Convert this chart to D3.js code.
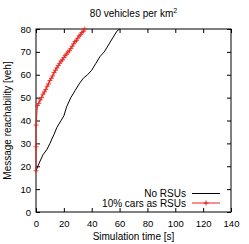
<!DOCTYPE html>
<html>
<head>
<meta charset="utf-8">
<script src="https://cdn.jsdelivr.net/npm/d3@7"></script>
<style>
  body { margin: 0; background: #fff; }
  text { font-family: "Liberation Sans", Arial, sans-serif; fill: #000; }
</style>
</head>
<body>
<script>
// chart data
var xTicks = [0, 20, 40, 60, 80, 100, 120, 140];
var yTicks = [0, 10, 20, 30, 40, 50, 60, 70, 80];

var noRsuTime = [0, 2, 5, 8, 10, 13, 15, 18, 20, 22, 25, 28, 31, 34, 37, 40, 43, 46, 49, 52, 55, 58, 60];
var noRsuReach = [18, 21, 25, 27.5, 30, 34, 37, 40, 42, 46, 50, 53, 56, 58.5, 60, 62, 65, 68, 70, 73, 76, 79, 80];

var rsuTime = [0, 0, 0, 1, 2, 3, 4, 5, 6, 7, 8, 9, 10, 11, 12, 13, 14, 15, 16, 17, 18, 19, 20,
  21, 22, 23, 24, 25, 26, 27, 28, 29, 30, 31, 32, 33, 34, 35];
var rsuReach = [18, 28.5, 38, 46.5, 47.5, 49, 50, 51.5, 52.5, 53.5, 55, 56, 57.5, 58.5, 59.5, 61, 62, 63, 64, 65, 66, 66.5, 67.5,
  68.5, 69, 70, 70.5, 71.5, 72.5, 73.5, 74.5, 75, 76, 77, 77.5, 78.5, 79, 80];

var seriesNames = ["No RSUs", "10% cars as RSUs"];

var svgWidth = 249;
var svgHeight = 244;
var margin = { top: 29, right: 18, bottom: 32, left: 36 };
var chartWidth = svgWidth - margin.left - margin.right;
var chartHeight = svgHeight - margin.top - margin.bottom;

var svg = d3.select("body").append("svg")
  .attr("width", svgWidth)
  .attr("height", svgHeight);

var chartGroup = svg.append("g")
  .attr("transform", `translate(${margin.left}, ${margin.top})`);

var xScale = d3.scaleLinear().domain([0, 140]).range([0, chartWidth]);
var yScale = d3.scaleLinear().domain([0, 80]).range([chartHeight, 0]);

// gnuplot style: ticks pointing inward, mirrored on all sides
chartGroup.append("g")
  .attr("transform", `translate(0, ${chartHeight})`)
  .call(d3.axisBottom(xScale).tickValues(xTicks).tickSizeInner(-4).tickSizeOuter(0).tickPadding(8))
  .call(g => g.select(".domain").remove());
chartGroup.append("g")
  .call(d3.axisTop(xScale).tickValues(xTicks).tickSizeInner(-4).tickSizeOuter(0).tickFormat(""))
  .call(g => g.select(".domain").remove());
chartGroup.append("g")
  .call(d3.axisLeft(yScale).tickValues(yTicks).tickSizeInner(-4).tickSizeOuter(0).tickPadding(5))
  .call(g => g.select(".domain").remove());
chartGroup.append("g")
  .attr("transform", `translate(${chartWidth}, 0)`)
  .call(d3.axisRight(yScale).tickValues(yTicks).tickSizeInner(-4).tickSizeOuter(0).tickFormat(""))
  .call(g => g.select(".domain").remove());

chartGroup.selectAll(".tick text")
  .style("font-size", "9.5px")
  .style("font-family", "Liberation Sans, Arial, sans-serif");
chartGroup.selectAll(".tick line").attr("stroke", "#000");

chartGroup.append("rect")
  .attr("width", chartWidth)
  .attr("height", chartHeight)
  .attr("fill", "none")
  .attr("stroke", "#000")
  .attr("stroke-width", 1);

var line = d3.line()
  .x(d => xScale(d[0]))
  .y(d => yScale(d[1]));

var blackData = noRsuTime.map((t, i) => [t, noRsuReach[i]]);
var redData = rsuTime.map((t, i) => [t, rsuReach[i]]);

chartGroup.append("path")
  .attr("d", line(blackData))
  .attr("fill", "none")
  .attr("stroke", "#000")
  .attr("stroke-width", 1);

chartGroup.append("path")
  .attr("d", line(redData))
  .attr("fill", "none")
  .attr("stroke", "#e8201a")
  .attr("stroke-width", 1);

var plus = d3.symbol().type(d3.symbolCross);
function plusPath(x, y, s) {
  return `M${x - s},${y}H${x + s}M${x},${y - s}V${y + s}`;
}

chartGroup.selectAll(".mark")
  .data(redData)
  .enter()
  .append("path")
  .attr("class", "mark")
  .attr("d", d => plusPath(xScale(d[0]), yScale(d[1]), 2.5))
  .attr("stroke", "#e8201a")
  .attr("stroke-opacity", 0.8)
  .attr("stroke-width", 1);

// legend
var legend = svg.append("g");
legend.append("text")
  .attr("x", 186).attr("y", 197)
  .attr("text-anchor", "end")
  .style("font-size", "10px")
  .text(seriesNames[0]);
legend.append("line")
  .attr("x1", 192).attr("x2", 220).attr("y1", 193.5).attr("y2", 193.5)
  .attr("stroke", "#000");
legend.append("text")
  .attr("x", 186).attr("y", 206.5)
  .attr("text-anchor", "end")
  .style("font-size", "10px")
  .text(seriesNames[1]);
legend.append("line")
  .attr("x1", 192).attr("x2", 220).attr("y1", 203).attr("y2", 203)
  .attr("stroke", "#e8201a");
legend.append("path")
  .attr("d", plusPath(206, 203, 2.5))
  .attr("stroke", "#e8201a");

// title
var title = svg.append("text")
  .attr("x", margin.left + chartWidth / 2)
  .attr("y", 17)
  .attr("text-anchor", "middle")
  .style("font-size", "10px");
title.append("tspan").text("80 vehicles per km");
title.append("tspan").attr("dy", -4).style("font-size", "7px").text("2");

// axis labels
svg.append("text")
  .attr("x", margin.left + chartWidth / 2)
  .attr("y", 240)
  .attr("text-anchor", "middle")
  .style("font-size", "10px")
  .text("Simulation time [s]");

svg.append("text")
  .attr("transform", "rotate(-90)")
  .attr("x", -(margin.top + chartHeight / 2))
  .attr("y", 11)
  .attr("text-anchor", "middle")
  .style("font-size", "10px")
  .text("Message reachability [veh]");
</script>
</body>
</html>
